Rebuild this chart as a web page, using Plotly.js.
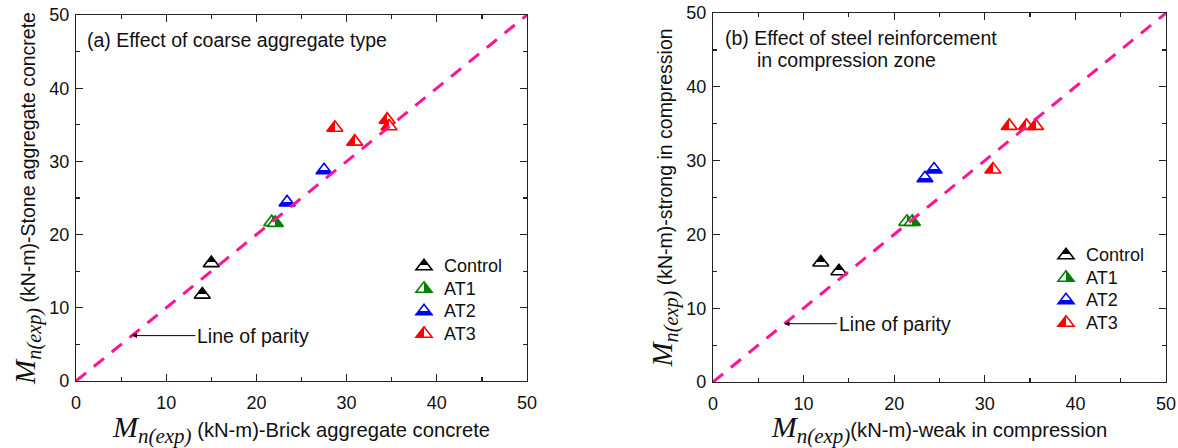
<!DOCTYPE html>
<html>
<head>
<meta charset="utf-8">
<script src="https://cdn.plot.ly/plotly-3.0.1.min.js"></script>
<style>html,body{margin:0;padding:0;background:#fff;}#chart{width:1178px;height:448px;}</style>
</head>
<body>
<div id="chart"></div>
<script>
// ---- data ----
const seriesNames = ["Control", "AT1", "AT2", "AT3"];

// Panel (a): brick (x) vs stone (y) aggregate concrete
const ctrlA_x = [14.0, 15.0];        const ctrlA_y = [11.8, 16.1];
const at1A_x  = [21.7, 22.1];        const at1A_y  = [21.7, 21.6];
const at2A_x  = [23.4, 27.5];        const at2A_y  = [24.4, 28.8];
const at3A_x  = [28.7, 30.9, 34.5, 34.7]; const at3A_y = [34.6, 32.7, 35.7, 34.8];

// Panel (b): weak (x) vs strong (y) in compression
const ctrlB_x = [11.9, 13.9];        const ctrlB_y = [16.2, 15.0];
const at1B_x  = [21.4, 22.0];        const at1B_y  = [21.7, 21.7];
const at2B_x  = [23.4, 24.4];        const at2B_y  = [27.6, 28.8];
const at3B_x  = [30.9, 32.7, 34.6, 35.6]; const at3B_y = [28.8, 34.7, 34.7, 34.7];

// line of parity
const parity_x = [0, 50];
const parity_y = [0, 50];

const axisTicks = [0, 10, 20, 30, 40, 50];

// ---- styles ----
const SANS = "Liberation Sans, Arial, sans-serif";
const styles = {
  Control: {color: "#000000", gtype: "vertical"},
  AT1:     {color: "#008000", gtype: "horizontal"},
  AT2:     {color: "#0000ff", gtype: "vertical"},
  AT3:     {color: "#ff0000", gtype: "horizontal"}
};
// half-fill layout per colour: gradient direction (x1,y1,x2,y2) and filled fraction from the start
const HALF = {
  "rgb(0,0,0)":   {dir: [0, 0, 0, 1], frac: 58},   // top filled
  "rgb(0,128,0)": {dir: [1, 0, 0, 0], frac: 50},   // right filled
  "rgb(0,0,255)": {dir: [0, 1, 0, 0], frac: 36},   // bottom filled
  "rgb(255,0,0)": {dir: [0, 0, 1, 0], frac: 50}    // left filled
};

function pts(name, xs, ys, xa, ya, leg, uid) {
  const s = styles[name];
  return {
    type: "scatter", mode: "markers", name: '<span style="font-size:18px">' + name + '</span>',
    x: xs, y: ys, xaxis: xa, yaxis: ya, legend: leg, uid: uid, cliponaxis: false,
    marker: {symbol: "triangle-up", size: 14, color: s.color,
             line: {color: s.color, width: 1.6},
             gradient: {type: s.gtype, color: "#ffffff"}}
  };
}
function parity(xa, ya) {
  return {type: "scatter", mode: "lines", x: parity_x, y: parity_y, xaxis: xa, yaxis: ya,
          showlegend: false, hoverinfo: "skip", cliponaxis: false,
          line: {color: "#ff1493", width: 3, dash: "13px,10px"}};
}

const data = [
  pts("Control", ctrlA_x, ctrlA_y, "x", "y", "legend", "uCtrlA"),
  pts("AT1", at1A_x, at1A_y, "x", "y", "legend", "uAt1A"),
  pts("AT2", at2A_x, at2A_y, "x", "y", "legend", "uAt2A"),
  pts("AT3", at3A_x, at3A_y, "x", "y", "legend", "uAt3A"),
  parity("x", "y"),
  pts("Control", ctrlB_x, ctrlB_y, "x2", "y2", "legend2", "uCtrlB"),
  pts("AT1", at1B_x, at1B_y, "x2", "y2", "legend2", "uAt1B"),
  pts("AT2", at2B_x, at2B_y, "x2", "y2", "legend2", "uAt2B"),
  pts("AT3", at3B_x, at3B_y, "x2", "y2", "legend2", "uAt3B"),
  parity("x2", "y2")
];

const Mx = '<span style="font-family:Liberation Serif;font-size:30px"><i>M<sub>n(exp)</sub></i></span>';
const My = '<span style="font-family:Liberation Serif;font-size:29px"><i>M<sub>n(exp)</sub></i></span>';

function axis(domain, anchor, title, standoff, labelGap, tsize) {
  return {
    domain: domain, anchor: anchor, range: [0, 50], tickvals: axisTicks,
    ticks: "inside", ticklen: 7, tickwidth: 1.2, tickcolor: "#222",
    minor: {dtick: 5, ticks: "inside", ticklen: 4, tickwidth: 1.2, tickcolor: "#222"},
    showline: true, linecolor: "#222", linewidth: 1.2, mirror: "ticks",
    showgrid: false, zeroline: false, ticklabelstandoff: labelGap,
    tickfont: {family: SANS, size: 18, color: "#111"},
    title: {text: title, font: {family: SANS, size: tsize, color: "#111"}, standoff: standoff}
  };
}

const legendFont = {family: SANS, size: 15, color: "#111"};

const layout = {
  width: 1178, height: 448,
  margin: {l: 0, r: 0, t: 0, b: 0},
  paper_bgcolor: "#fff", plot_bgcolor: "#fff",
  font: {family: SANS, color: "#111"},
  xaxis:  axis([0.06452, 0.44737], "y",  Mx + " (kN-m)-Brick aggregate concrete", 4, 5, 20.2),
  yaxis:  axis([0.14955, 0.96652], "x",  My + " (kN-m)-Stone aggregate concrete", 8, 2, 19.5),
  xaxis2: axis([0.60526, 0.98981], "y2", Mx + "(kN-m)-weak in compression", 4, 5, 20.2),
  yaxis2: axis([0.14732, 0.97098], "x2", My + " (kN-m)-strong in compression", 8, 2, 19.5),
  legend:  {x: 404/1178, y: 1 - 250/448, xanchor: "left", yanchor: "top",
            font: legendFont, bgcolor: "rgba(0,0,0,0)", borderwidth: 0},
  legend2: {x: 1046/1178, y: 1 - 239/448, xanchor: "left", yanchor: "top",
            font: legendFont, bgcolor: "rgba(0,0,0,0)", borderwidth: 0},
  annotations: [
    {xref: "x domain", yref: "y domain", x: 0.02, y: 0.932, xanchor: "left", yanchor: "middle",
     text: "(a) Effect of coarse aggregate type", showarrow: false,
     font: {family: SANS, size: 19.5, color: "#111"}},
    {xref: "x2 domain", yref: "y2 domain", x: 0.022, y: 0.932, xanchor: "left", yanchor: "middle",
     text: "(b) Effect of steel reinforcement", showarrow: false,
     font: {family: SANS, size: 19.5, color: "#111"}},
    {xref: "x2 domain", yref: "y2 domain", x: 0.093, y: 0.872, xanchor: "left", yanchor: "middle",
     text: "in compression zone", showarrow: false,
     font: {family: SANS, size: 19.5, color: "#111"}},
    {xref: "x", yref: "y", x: 6.2, y: 6.2, text: "Line of parity", showarrow: true,
     axref: "pixel", ayref: "pixel", ax: 121, ay: 0, arrowhead: 2, arrowsize: 1, arrowwidth: 1,
     arrowcolor: "#000", standoff: 0, font: {family: SANS, size: 19.5, color: "#111"}},
    {xref: "x2", yref: "y2", x: 7.9, y: 7.9, text: "Line of parity", showarrow: true,
     axref: "pixel", ayref: "pixel", ax: 110, ay: 0, arrowhead: 2, arrowsize: 1, arrowwidth: 1,
     arrowcolor: "#000", standoff: 0, font: {family: SANS, size: 19.5, color: "#111"}}
  ]
};

// turn Plotly's two-colour marker gradients into hard half-fills
function hardenGradients(gd) {
  gd.querySelectorAll("linearGradient").forEach(function (g) {
    const stops = Array.from(g.querySelectorAll("stop"));
    if (stops.length < 2) return;
    let fill = null;
    stops.forEach(function (s) {
      const c = (s.getAttribute("stop-color") || "").replace(/\s+/g, "").toLowerCase();
      if (c !== "rgb(255,255,255)" && c !== "#ffffff" && c !== "white") fill = c;
    });
    const info = HALF[fill];
    if (!info) return;
    g.setAttribute("x1", info.dir[0]); g.setAttribute("y1", info.dir[1]);
    g.setAttribute("x2", info.dir[2]); g.setAttribute("y2", info.dir[3]);
    while (g.firstChild) g.removeChild(g.firstChild);
    [[0, fill], [info.frac, fill], [info.frac, "#ffffff"], [100, "#ffffff"]].forEach(function (p) {
      const s = document.createElementNS("http://www.w3.org/2000/svg", "stop");
      s.setAttribute("offset", p[0] + "%");
      s.setAttribute("stop-color", p[1]);
      g.appendChild(s);
    });
  });
}

Plotly.newPlot("chart", data, layout, {staticPlot: true}).then(function (gd) {
  hardenGradients(gd);
});
</script>
</body>
</html>
